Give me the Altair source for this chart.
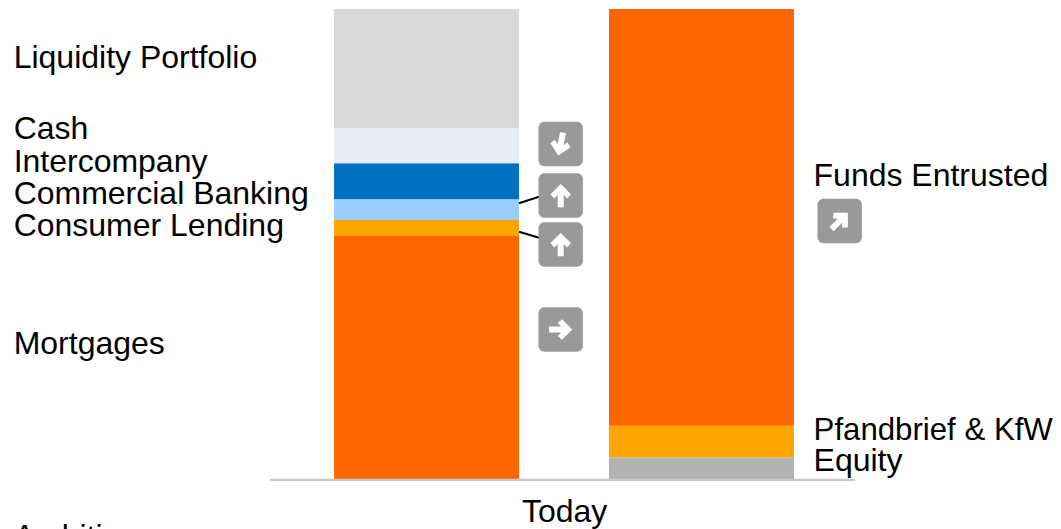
import altair as alt
import pandas as pd

# --- values (share of each balance-sheet column, %)
columns = ["Assets", "Liabilities"]
asset_names = ["Mortgages", "Consumer Lending", "Commercial Banking", "Intercompany", "Cash", "Liquidity Portfolio"]
asset_values = [51.9, 3.4, 4.4, 7.6, 7.5, 25.2]
liab_names = ["Equity", "Pfandbrief & KfW", "Funds Entrusted"]
liab_values = [5.0, 6.7, 88.3]
colours = {
    "Mortgages": "#ff6600", "Consumer Lending": "#ffa500", "Commercial Banking": "#99ccff",
    "Intercompany": "#0070c0", "Cash": "#e8ecf6", "Liquidity Portfolio": "#d9d9d9",
    "Equity": "#b1b3b0", "Pfandbrief & KfW": "#ffa500", "Funds Entrusted": "#ff6600",
}

# --- layout: the canvas is slightly larger than the window so that the last
# labels are not clipped; the page is then shown at factor S, compensated here.
W, H = 1053, 521
S = 0.9925
def X(p):
    return (p + 8) / S - 8
def Y(p):
    return (p + 6) / S - 8

labels = ["Liquidity Portfolio", "Cash", "Intercompany", "Commercial Banking", "Consumer Lending",
          "Mortgages", "Funds Entrusted", "Pfandbrief & KfW", "Equity", "Today", "Ambition"]
label_x = [5.6, 5.6, 5.6, 5.6, 5.6, 5.6, 805.6, 805.6, 805.6, 514, 5.6]
label_y = [60, 131, 164, 196, 228, 346, 178, 432, 463, 514, 539]
label_size = [32, 32, 32, 32, 32, 32, 32, 31.2, 32, 32, 32]
badge_x = [552.7, 552.7, 552.7, 552.7, 831.7]
badge_y = [136, 187.5, 236.5, 321.5, 213]
badge_angle = [192, 0, 0, 90, 45]
BADGE = 22.2
link_x = [511, 511]
link_x2 = [531, 531]
link_y = [195.3, 223.7]
link_y2 = [188.7, 229.7]

FONT = "Liberation Sans"
ARROW = "M0,-1 L0.88,-0.12 L0.56,0.26 L0.26,-0.04 L0.26,1 L-0.26,1 L-0.26,-0.04 L-0.56,0.26 L-0.88,-0.12 Z"

rows = []
for i, (n, v) in enumerate(zip(asset_names, asset_values)):
    rows.append({"col": columns[0], "name": n, "key": columns[0] + n, "value": v, "ord": i, "colour": colours[n]})
for i, (n, v) in enumerate(zip(liab_names, liab_values)):
    rows.append({"col": columns[1], "name": n, "key": columns[1] + n, "value": v, "ord": i, "colour": colours[n]})
bars_df = pd.DataFrame(rows)

bars = alt.Chart(bars_df).mark_bar(size=185 / S).encode(
    x=alt.X("col:N", axis=None, sort=columns,
            scale=alt.Scale(domain=columns, range=[X(326), X(786)], paddingInner=0.327, paddingOuter=0)),
    y=alt.Y("value:Q", axis=None, stack="zero",
            scale=alt.Scale(domain=[-9.77, 99.79], range=[H, 0], nice=False, zero=False)),
    order=alt.Order("ord:Q"),
    color=alt.Color("colour:N", scale=None),
    detail="key:N",
)

axis_line = alt.Chart(pd.DataFrame({"a": [0]})).mark_rule(color="#c8c8c8", strokeWidth=2.2 / S).encode(
    x=alt.value(X(262)), x2=alt.value(X(847)), y=alt.value(Y(471.8))
)

links = alt.Chart(pd.DataFrame({
    "x": [X(v) for v in link_x], "x2": [X(v) for v in link_x2],
    "y": [Y(v) for v in link_y], "y2": [Y(v) for v in link_y2],
})).mark_rule(color="#000000", strokeWidth=2 / S).encode(
    x=alt.X("x:Q", scale=None, axis=None), x2="x2:Q",
    y=alt.Y("y:Q", scale=None, axis=None), y2="y2:Q",
)

badge_df = pd.DataFrame({
    "x": [X(v - BADGE) for v in badge_x], "x2": [X(v + BADGE) for v in badge_x],
    "y": [Y(v - BADGE) for v in badge_y], "y2": [Y(v + BADGE) for v in badge_y],
})
badges = alt.Chart(badge_df).mark_rect(color="#999999", cornerRadius=6).encode(
    x=alt.X("x:Q", scale=None, axis=None), x2="x2:Q",
    y=alt.Y("y:Q", scale=None, axis=None), y2="y2:Q",
)

arrows = alt.Chart(pd.DataFrame({
    "x": [X(v) for v in badge_x], "y": [Y(v) for v in badge_y], "a": badge_angle,
})).mark_point(
    shape=ARROW, filled=True, color="#ffffff", opacity=1, size=540 / S / S
).encode(
    x=alt.X("x:Q", scale=None, axis=None),
    y=alt.Y("y:Q", scale=None, axis=None),
    angle=alt.Angle("a:Q", scale=None),
)

texts = alt.Chart(pd.DataFrame({
    "t": labels, "x": [X(v) for v in label_x], "y": [Y(v) for v in label_y],
    "s": [v / S for v in label_size],
})).mark_text(
    font=FONT, align="left", baseline="alphabetic", color="#000000"
).encode(
    x=alt.X("x:Q", scale=None, axis=None),
    y=alt.Y("y:Q", scale=None, axis=None),
    size=alt.Size("s:Q", scale=None),
    text="t:N",
)

chart = alt.layer(bars, axis_line, links, badges, arrows, texts).resolve_scale(
    x="independent", y="independent"
).properties(
    width=W, height=H, padding=0, autosize=alt.AutoSizeParams(type="none"), background="#ffffff",
).configure_view(stroke=None)

chart.save("out.html", embed_options={"renderer": "svg", "actions": False})
